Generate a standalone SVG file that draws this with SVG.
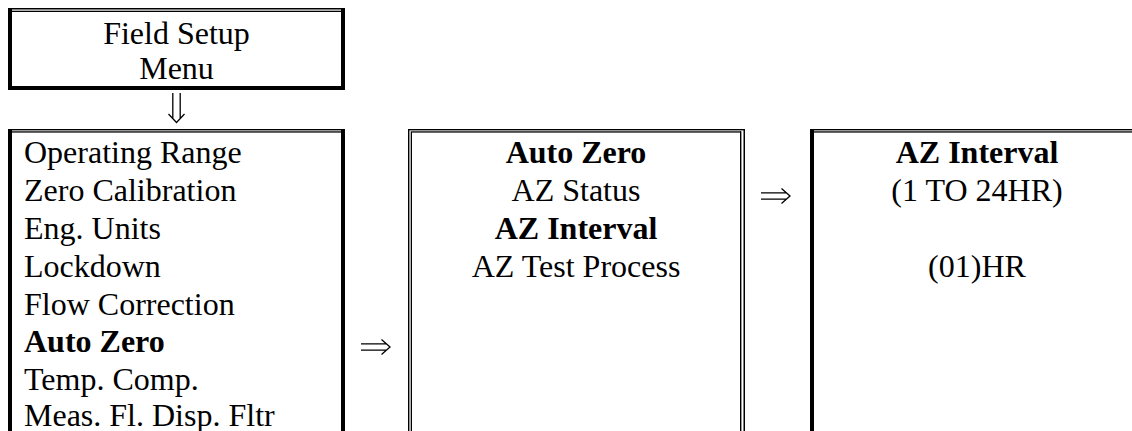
<svg xmlns="http://www.w3.org/2000/svg" width="1132" height="431" viewBox="0 0 1132 431">
<style>
  text { font-family: "Liberation Serif", "Times New Roman", serif; font-size: 32px; fill: #000; }
  .c { text-anchor: middle; }
  .b { font-weight: bold; }
  .k { fill: #000; }
  .arr { fill: none; stroke: #000; stroke-width: 1.3; stroke-linecap: butt; stroke-linejoin: miter; }
</style>
<rect width="1132" height="431" fill="#fff"/>

<g id="field-setup-menu">
  <rect class="k" x="8" y="8" width="337" height="1.5"/>
  <rect class="k" x="12" y="10.7" width="329" height="1.3"/>
  <rect class="k" x="8" y="8" width="4" height="82"/>
  <rect class="k" x="341" y="8" width="4" height="82"/>
  <rect class="k" x="8" y="86" width="337" height="4"/>
  <text class="c" x="176.5" y="44">Field Setup</text>
  <text class="c" x="176.5" y="79">Menu</text>
</g>

<g id="main-menu">
  <rect class="k" x="8" y="129" width="337" height="1.4"/>
  <rect class="k" x="12" y="131.3" width="329" height="1.3"/>
  <rect class="k" x="8" y="129" width="4" height="302"/>
  <rect class="k" x="341" y="129" width="4" height="302"/>
  <text x="24" y="163">Operating Range</text>
  <text x="24" y="201">Zero Calibration</text>
  <text x="24" y="239">Eng. Units</text>
  <text x="24" y="277">Lockdown</text>
  <text x="24" y="315">Flow Correction</text>
  <text class="b" x="24" y="352">Auto Zero</text>
  <text x="24" y="390">Temp. Comp.</text>
  <text x="24" y="426">Meas. Fl. Disp. Fltr</text>
</g>

<g id="auto-zero-menu">
  <rect class="k" x="408" y="129" width="337" height="1.4"/>
  <rect class="k" x="412" y="131.3" width="329" height="1.3"/>
  <rect class="k" x="408" y="129" width="1.4" height="302"/>
  <rect class="k" x="410.7" y="131.3" width="1.3" height="300"/>
  <rect class="k" x="740" y="131.3" width="1.4" height="300"/>
  <rect class="k" x="743.5" y="129" width="1.5" height="302"/>
  <text class="c b" x="576" y="163">Auto Zero</text>
  <text class="c" x="576" y="201">AZ Status</text>
  <text class="c b" x="576" y="239">AZ Interval</text>
  <text class="c" x="576" y="277">AZ Test Process</text>
</g>

<g id="az-interval">
  <rect class="k" x="810" y="129" width="322" height="1.4"/>
  <rect class="k" x="814" y="131.3" width="318" height="1.3"/>
  <rect class="k" x="810" y="129" width="4" height="302"/>
  <text class="c b" x="977" y="163">AZ Interval</text>
  <text class="c" x="977" y="201">(1 TO 24HR)</text>
  <text class="c" x="977" y="277">(01)HR</text>
</g>

<g id="connectors">
  <path class="arr" d="M172.8,93 V118 M180.2,93 V118 M168.5,114 L176.5,122.5 L184.5,114"/>
  <path class="arr" d="M361,343.8 H386 M361,350.2 H386 M381.5,339.5 L390,347 L381.5,354.5"/>
  <path class="arr" d="M761,192.8 H786 M761,199.2 H786 M781.5,188.5 L790,196 L781.5,203.5"/>
</g>
</svg>
